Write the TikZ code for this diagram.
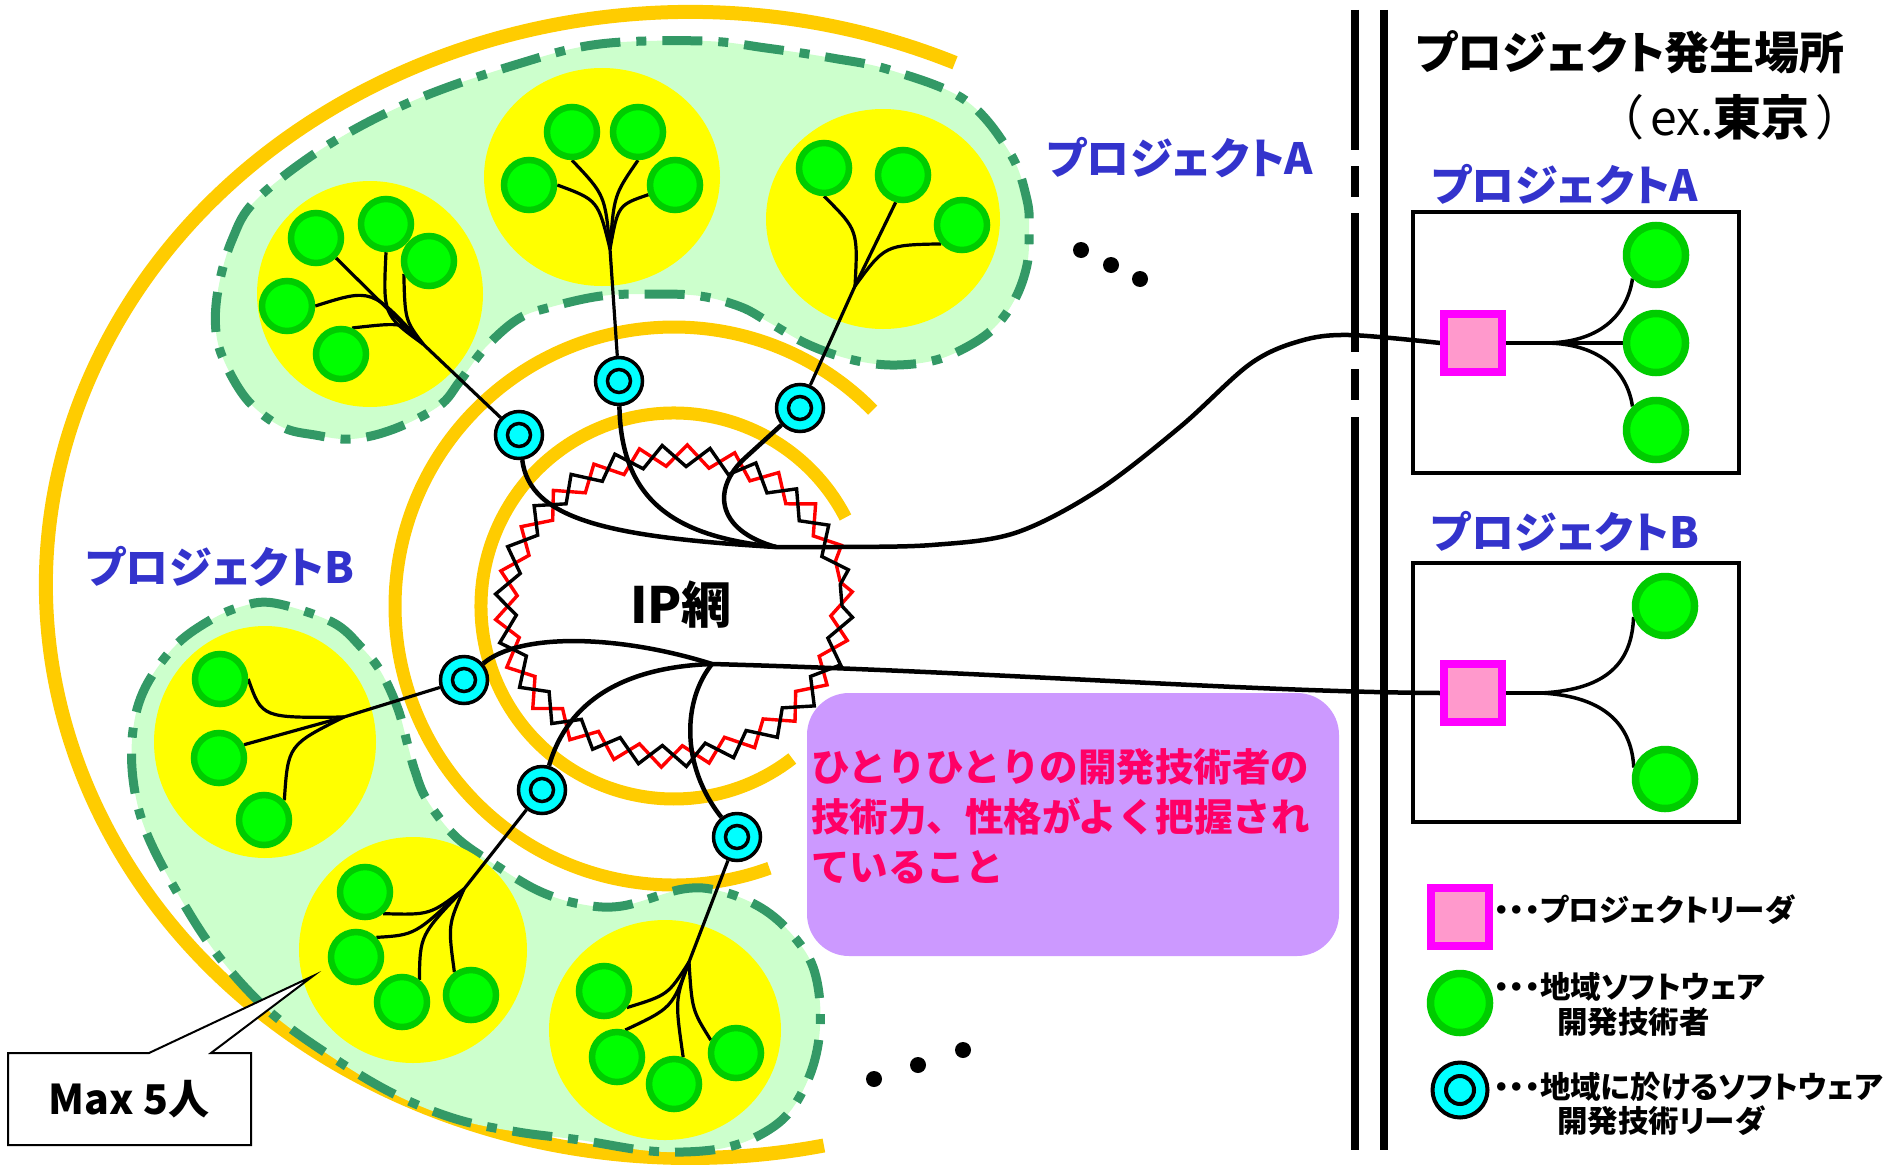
\documentclass[tikz,border=0pt]{standalone}
\usepackage{fontspec}
\setmainfont{Noto Sans CJK JP}[RawFeature=+palt]
\newfontfamily\fwfont{Noto Sans CJK JP}
\usetikzlibrary{decorations.pathmorphing}
\pgfdeclarelayer{back}
\pgfdeclarelayer{mid}
\pgfsetlayers{back,mid,main}
\definecolor{arcorange}{RGB}{255,204,0}
\definecolor{blobfill}{RGB}{204,255,204}
\definecolor{blobline}{RGB}{51,153,102}
\definecolor{devfill}{RGB}{0,255,0}
\definecolor{devline}{RGB}{0,204,0}
\definecolor{labblue}{RGB}{51,51,204}
\definecolor{sqfill}{RGB}{255,153,204}
\definecolor{sqline}{RGB}{255,0,255}
\definecolor{notefill}{RGB}{204,153,255}
\definecolor{notetext}{RGB}{255,0,102}
\definecolor{ipred}{RGB}{255,0,0}
\definecolor{leadcyan}{RGB}{0,255,255}
\definecolor{grpyellow}{RGB}{255,255,0}
\tikzset{
  orangearc/.style={draw=arcorange, line width=13pt},
  blob/.style={fill=blobfill, draw=blobline, line width=9pt, dash pattern=on 40pt off 16pt on 10pt off 16pt},
  grp/.style={fill=grpyellow},
  dev/.style={circle, fill=devfill, draw=devline, line width=6.5pt, minimum size=50pt, inner sep=0pt},
  devbig/.style={dev, line width=7.5pt, minimum size=59pt},
  lead/.style={circle, fill=leadcyan, draw=black, line width=3.5pt, minimum size=47pt, inner sep=0pt,
    path picture={\draw[line width=3.5pt] (path picture bounding box.center) circle[radius=11.5pt];}},
  leadbig/.style={circle, fill=leadcyan, draw=black, line width=4pt, minimum size=55pt, inner sep=0pt,
    path picture={\draw[line width=4pt] (path picture bounding box.center) circle[radius=14pt];}},
  sq/.style={rectangle, fill=sqfill, draw=sqline, line width=7.5pt, minimum size=58pt, inner sep=0pt},
  treeline/.style={draw=black, line width=3.2pt},
  netline/.style={draw=black, line width=4.5pt},
  zig/.style={line width=3.4pt, decorate, decoration={zigzag, segment length=45.5pt, amplitude=10.5pt}},
  projbox/.style={draw=black, line width=4pt, inner sep=0pt, minimum width=326pt},
  bluelab/.style={text=labblue, font=\bfseries\fontsize{43}{50}\selectfont, inner sep=0pt},
  legtxt/.style={font=\bfseries\fontsize{30.5}{36}\selectfont, inner sep=0pt, anchor=west},
  vline/.style={line width=8pt},
  dot/.style={fill=black}
}
\begin{document}
\begin{tikzpicture}[x=1pt,y=-1pt]
\useasboundingbox (0,0) rectangle (1897,1164);

% ---------- nodes (main layer) ----------
% tree 1
\node[dev] (g11) at (316,238) {};
\node[dev] (g12) at (386,224) {};
\node[dev] (g13) at (429,261) {};
\node[dev] (g14) at (287,306) {};
\node[dev] (g15) at (341,354) {};
% tree 2
\node[dev] (g21) at (572,132) {};
\node[dev] (g22) at (638,132) {};
\node[dev] (g23) at (529,185) {};
\node[dev] (g24) at (675,185) {};
% tree 3
\node[dev] (g31) at (824,168) {};
\node[dev] (g32) at (903,175) {};
\node[dev] (g33) at (962,225) {};
% tree 4
\node[dev] (g41) at (220,679) {};
\node[dev] (g42) at (219,758) {};
\node[dev] (g43) at (264,820) {};
% tree 5
\node[dev] (g51) at (365,892) {};
\node[dev] (g52) at (356,957) {};
\node[dev] (g53) at (402,1002) {};
\node[dev] (g54) at (471,995) {};
% tree 6
\node[dev] (g61) at (604,991) {};
\node[dev] (g62) at (617,1057) {};
\node[dev] (g63) at (674,1084) {};
\node[dev] (g64) at (736,1053) {};
% local leaders
\node[lead] (C1) at (519,435) {};
\node[lead] (C2) at (619,381) {};
\node[lead] (C3) at (800,408) {};
\node[lead] (C4) at (464,680) {};
\node[lead] (C5) at (542,790) {};
\node[lead] (C6) at (737,837) {};

% right side
\node[projbox, minimum height=261pt] (boxA) at (1576,342.5) {};
\node[projbox, minimum height=259pt] (boxB) at (1576,692.5) {};
\node[sq] (sqA) at (1473,343) {};
\node[sq] (sqB) at (1473,693) {};
\node[devbig] (gA1) at (1656,255) {};
\node[devbig] (gA2) at (1656,343) {};
\node[devbig] (gA3) at (1656,430) {};
\node[devbig] (gB1) at (1665,606) {};
\node[devbig] (gB2) at (1665,779) {};

% ---------- background ----------
\begin{pgfonlayer}{back}
\draw[orangearc, line width=14pt] (690,585) ++(-65.7:644 and 573) arc[start angle=-65.7, end angle=-282, x radius=644, y radius=573];
\draw[orangearc] (674,606) ++(-44.6:279) arc[start angle=-44.6, end angle=-290, radius=279];
\draw[orangearc] (674,606) ++(-27.3:193) arc[start angle=-27.3, end angle=-307.8, radius=193];

\path[blob] plot[smooth cycle, tension=0.6] coordinates {
 (218,290) (232,240) (257,199) (328,145) (415,100) (518,64) (600,44) (704,41) (766,48) (832,58)
 (890,70) (965,100) (1010,153) (1027,200) (1029,232) (1027,265) (1015,299) (994,328) (965,348)
 (932,361) (890,365) (849,359) (807,344) (770,323) (741,307) (700,296) (650,294) (601,296)
 (551,307) (518,319) (485,348) (460,381) (439,406) (394,429) (352,439) (315,435) (282,427)
 (249,402) (226,365) (216,332)};
\path[blob] plot[smooth cycle, tension=0.6] coordinates {
 (274,603) (332,622) (361,647) (381,672) (398,709) (408,746) (415,771) (427,800) (456,837)
 (497,866) (539,891) (580,904) (622,906) (683,889) (720,891) (758,906) (787,929) (811,962)
 (820,1003) (818,1045) (807,1082) (787,1115) (758,1136) (724,1148) (683,1152) (641,1150)
 (580,1140) (518,1132) (456,1119) (394,1094) (332,1057) (269,1011) (216,953) (174,887)
 (145,829) (133,779) (133,730) (145,688) (174,647) (207,622) (240,607)};

\fill[grp] (370,294) circle[radius=113];
\fill[grp] (602,177) ellipse[x radius=118, y radius=109];
\fill[grp] (883,219) ellipse[x radius=117, y radius=110];
\fill[grp] (265,742) ellipse[x radius=111, y radius=116];
\fill[grp] (413,950) ellipse[x radius=114, y radius=113];
\fill[grp] (665,1030) ellipse[x radius=116, y radius=110];
\end{pgfonlayer}

% ---------- lines ----------
\begin{pgfonlayer}{mid}
% tree 1
\coordinate (J1) at (423,344);
\draw[treeline] (g11.-45) -- (J1) -- (C1);
\draw[treeline] (g12.south) .. controls (383,315) .. (J1);
\draw[treeline] (g13.207) .. controls (405,320) .. (J1);
\draw[treeline] (g14.east) .. controls (372,288) .. (J1);
\draw[treeline] (g15.67) .. controls (405,322) .. (J1);
% tree 2
\coordinate (J2) at (610,249);
\draw[treeline] (J2) -- (C2);
\draw[treeline] (g21.south) .. controls (605,195) .. (J2);
\draw[treeline] (g22.south) .. controls (614,195) .. (J2);
\draw[treeline] (g23.east) .. controls (598,200) .. (J2);
\draw[treeline] (g24.200) .. controls (618,205) .. (J2);
% tree 3
\coordinate (J3) at (855,286);
\draw[treeline] (g32.255) -- (J3) -- (C3);
\draw[treeline] (g31.south) .. controls (858,230) .. (J3);
\draw[treeline] (g33.222) .. controls (885,245) .. (J3);
% tree 4
\coordinate (J4) at (344,717);
\draw[treeline] (g42.28) -- (J4) -- (C4);
\draw[treeline] (g41.east) .. controls (262,718) .. (J4);
\draw[treeline] (g43.44) .. controls (288,745) .. (J4);
% tree 5
\coordinate (J5) at (464,889);
\draw[treeline] (J5) -- (C5);
\draw[treeline] (g51.-50) .. controls (430,915) .. (J5);
\draw[treeline] (g52.44) .. controls (415,935) .. (J5);
\draw[treeline] (g53.52) .. controls (420,935) .. (J5);
\draw[treeline] (g54.126) .. controls (448,925) .. (J5);
% tree 6
\coordinate (J6) at (689,962);
\draw[treeline] (J6) -- (C6);
\draw[treeline] (g61.-36) .. controls (668,995) .. (J6);
\draw[treeline] (g62.73) .. controls (672,1008) .. (J6);
\draw[treeline] (g63.71) .. controls (675,1000) .. (J6);
\draw[treeline] (g64.153) .. controls (692,1010) .. (J6);

% IP network
\draw[zig, draw=ipred, rotate around={8.2:(674,606)}] (674,606) ellipse[x radius=168, y radius=150];
\draw[zig, draw=black] (674,606) ellipse[x radius=168, y radius=150];

% network connections, project A
\coordinate (U) at (776,547);
\coordinate (kC3) at (745,458);
\draw[netline] (C1) .. controls (530,520) and (610,537) .. (U);
\draw[netline] (C2) .. controls (621,505) and (680,537) .. (U);
\draw[netline] (C3) -- (kC3) .. controls (712,488) and (715,530) .. (U);
\draw[netline] plot[smooth, tension=0.55] coordinates {(U) (840,547) (932,545) (1015,533) (1097,491) (1180,427) (1250,364) (1300,341) (1349,335) (sqA.west)};
% network connections, project B
\coordinate (L) at (712,664);
\draw[netline] (C4) .. controls (520,632) and (620,635) .. (L);
\draw[netline] (C5) .. controls (568,700) and (625,667) .. (L);
\draw[netline] (C6) .. controls (680,765) and (683,700) .. (L);
\draw[netline] (L) .. controls (1000,672) and (1250,692) .. (sqB.west);

% right side fan-outs
\coordinate (bA) at (1544,343);
\draw[treeline, line width=3.5pt] (sqA.east) -- (bA);
\draw[treeline, line width=3.5pt] (bA) .. controls (1605,343) and (1628,310) .. (gA1.225);
\draw[treeline, line width=3.5pt] (bA) -- (gA2.west);
\draw[treeline, line width=3.5pt] (bA) .. controls (1605,343) and (1628,376) .. (gA3.135);
\coordinate (bB) at (1540,693);
\draw[treeline, line width=3.5pt] (sqB.east) -- (bB);
\draw[treeline, line width=3.5pt] (bB) .. controls (1610,690) and (1632,660) .. (gB1.199);
\draw[treeline, line width=3.5pt] (bB) .. controls (1610,696) and (1632,730) .. (gB2.160);
\end{pgfonlayer}

% ---------- texts and misc ----------
\node[font=\bfseries\fontsize{50}{56}\selectfont, inner sep=0pt] (ip) at (681,605) {IP網};

\node[bluelab] (labA) at (1180,158) {プロジェクトA};
\node[bluelab] (labB) at (220,567) {プロジェクトB};
\node[bluelab] (labA2) at (1565,185) {プロジェクトA};
\node[bluelab] (labB2) at (1565,532) {プロジェクトB};

\node[font=\bfseries\fontsize{45}{52}\selectfont, inner sep=0pt] (title) at (1630,52) {プロジェクト発生場所};
\node[font=\fontsize{48}{54}\selectfont, inner sep=0pt] (place) at (1730,117) {（\,ex.{\bfseries 東京}\,）};

% dots
\fill[dot] (1081,250) circle[radius=8];
\fill[dot] (1111,265) circle[radius=8];
\fill[dot] (1140,279) circle[radius=8];
\fill[dot] (874,1079) circle[radius=8];
\fill[dot] (918,1065) circle[radius=8];
\fill[dot] (963,1050) circle[radius=8];

% note
\node[fill=notefill, rounded corners=42pt, minimum width=532pt, minimum height=263pt, inner sep=0pt] (note) at (1073,824.5) {};
\node[anchor=west, align=left, inner sep=0pt, text=notetext, font=\fwfont\bfseries\fontsize{38.5}{50}\selectfont] (notetxt) at (811,816) {ひとりひとりの開発技術者の\\技術力、性格がよく把握され\\ていること};

% callout
\coordinate (tip) at (313,976);
\draw[fill=white, line width=2pt] (8,1053) -- (149,1053) -- (tip) -- (211,1053) -- (251,1053) -- (251,1145) -- (8,1145) -- cycle;
\node[font=\bfseries\fontsize{41}{46}\selectfont, inner sep=0pt] (maxtxt) at (129,1099) {Max 5人};

% separator lines
\draw[vline] (1384,10) -- (1384,1150);
\draw[vline, line width=7.5pt] (1355,10) -- (1355,150) (1355,166) -- (1355,197) (1355,213) -- (1355,352) (1355,369) -- (1355,400) (1355,417) -- (1355,1150);

% legend
\node[sq] (sqL) at (1460,917) {};
\node[devbig] (gL) at (1460,1003) {};
\node[leadbig] (cL) at (1460,1090) {};
\node[legtxt] (leg1) at (1494,910) {・・・プロジェクトリーダ};
\node[legtxt] (leg2a) at (1494,987) {・・・地域ソフトウェア};
\node[legtxt] (leg2b) at (1557,1022) {開発技術者};
\node[legtxt] (leg3a) at (1494,1087) {・・・地域に於けるソフトウェア};
\node[legtxt] (leg3b) at (1557,1121) {開発技術リーダ};
\end{tikzpicture}
\end{document}
